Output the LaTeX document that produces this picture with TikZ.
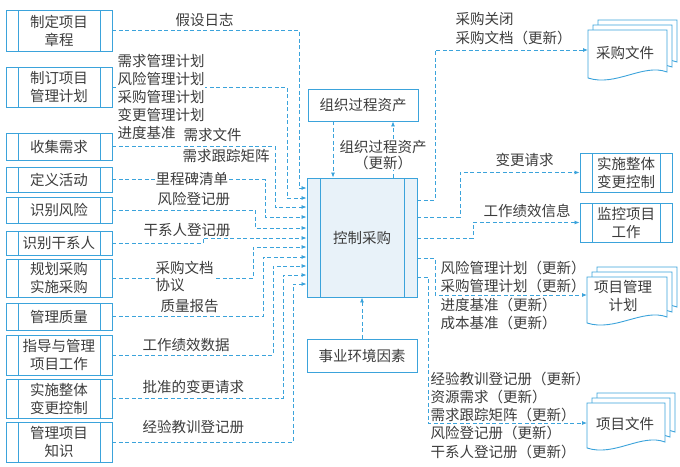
\documentclass[tikz,border=0pt]{standalone}
\usepackage{fontspec}
\setmainfont{Noto Sans CJK SC}
\usetikzlibrary{arrows.meta,calc}
\definecolor{bl}{HTML}{3BA3DB}
\definecolor{tx}{HTML}{3C3C3C}
\definecolor{fillb}{HTML}{E8F2F9}
\newcommand\docpage[4]{\draw[box,fill=white] (#1,#2) -- ++(#3,0) -- ++(0,#4-6) .. controls +(-0.3*#3,-9) and +(0.35*#3,9) .. (#1,#2+#4) -- cycle;}
\newcommand\docstack[4]{\foreach \o in {10,5,0}{\docpage{#1+\o}{#2-\o}{#3}{#4}}}
\begin{document}
\begin{tikzpicture}[x=1pt,y=-1pt,
  every node/.style={font=\fontsize{14.5}{18}\selectfont, text=tx},
  box/.style={draw=bl, line width=0.9pt},
  inl/.style={path picture={\draw[bl,line width=0.9pt]
      ([xshift=#1]path picture bounding box.north west) -- ([xshift=#1]path picture bounding box.south west)
      ([xshift=-#1]path picture bounding box.north east) -- ([xshift=-#1]path picture bounding box.south east);}},
  lproc/.style={box, align=center, minimum width=106pt, inner sep=0pt, inl=12pt, minimum height=#1},
  rproc/.style={box, align=center, minimum width=92pt, inner sep=0pt, inl=12pt, minimum height=39pt},
  plain/.style={box, minimum width=110pt, minimum height=32pt, inner sep=0pt},
  flow/.style={draw=bl, line width=0.8pt, dash pattern=on 4pt off 2.5pt, -{Latex[length=5pt,width=4pt]}},
  lab/.style={anchor=west, inner sep=0.5pt},
  labw/.style={anchor=west, inner sep=0.5pt, fill=white},
]
\useasboundingbox (0,0) rectangle (680,466);

% left process boxes
\node[lproc=41pt] (L1) at (59,30.5) {制定项目\\章程};
\node[lproc=40pt] (L2) at (59,87) {制订项目\\管理计划};
\node[lproc=27pt] (L3) at (59,146.5) {收集需求};
\node[lproc=25pt] (L4) at (59,179.5) {定义活动};
\node[lproc=26pt] (L5) at (59,210) {识别风险};
\node[lproc=24pt] (L6) at (59,243.5) {识别干系人};
\node[lproc=38pt] (L7) at (59,278) {规划采购\\实施采购};
\node[lproc=27pt] (L8) at (59,316.5) {管理质量};
\node[lproc=40pt] (L9) at (59,355) {指导与管理\\项目工作};
\node[lproc=39pt] (L10) at (59,398.5) {实施整体\\变更控制};
\node[lproc=40pt] (L11) at (59,442) {管理项目\\知识};

% central boxes
\node[box, fill=fillb, minimum width=110pt, minimum height=119pt, inner sep=0pt, inl=13pt] (ctl) at (362,237.5) {控制采购};
\node[plain] (ogp) at (363,105) {组织过程资产};
\node[plain, minimum height=33pt] (eef) at (362,355.5) {事业环境因素};

% right boxes
\node[rproc] (ssbg) at (626,172.5) {实施整体\\变更控制};
\node[rproc] (jk) at (626,222.5) {监控项目\\工作};

% documents
\docstack{588}{30}{79}{48}
\node (doc1) at (625,53) {采购文件};
\docstack{587}{277}{80}{46}
\node[align=center] (doc2) at (623,296) {项目管理\\计划};
\docstack{587}{403}{78}{45}
\node (doc3) at (625,424) {项目文件};
\coordinate (doc1L) at (588,50);
\coordinate (doc2L) at (587,295);
\coordinate (doc3L) at (587,423);

% entry points
\foreach \i/\y in {1/188,2/198,3/207,4/217,5/228,6/238,7/247,8/257,9/266,10/275,11/284}
  \coordinate (e\i) at (ctl.west |- 0,\y);
\foreach \i/\y in {1/200,2/217,3/238,4/258,5/277}
  \coordinate (o\i) at (ctl.east |- 0,\y);

% inputs
\draw[flow] (L1.east) -| (299,188) -- (e1);
\draw[flow] (L2.east) -| (287,198) -- (e2);
\draw[flow] (L3.east) -| (275,207) -- (e3);
\draw[flow] (L4.east) -| (265,217) -- (e4);
\draw[flow] (L5.east) -| (255,228) -- (e5);
\draw[flow] (L6.east) -- (203,243.5) -- (203,238) -- (e6);
\draw[flow] (L7.east) -| (253,247) -- (e7);
\draw[flow] (L8.east) -| (263,257) -- (e8);
\draw[flow] (L9.east) -| (273,266) -- (e9);
\draw[flow] (L10.east) -| (283,275) -- (e10);
\draw[flow] (L11.east) -| (293,284) -- (e11);

\draw[flow] (ogp.south -| 333,0) -- (ctl.north -| 333,0);
\draw[flow] (ctl.north -| 393,0) -- (ogp.south -| 393,0);
\draw[flow] (eef.north) -- (ctl.south);

% outputs
\draw[flow] (o1) -| (435,50) -- (doc1L);
\draw[flow] (o2) -- (460,217) |- (ssbg.west);
\draw[flow] (o3) -- (473,238) |- (jk.west);
\draw[flow] (o4) -- (435,258) |- (doc2L);
\draw[flow] (o5) -- (428,277) |- (doc3L);

% left labels
\node[labw] (t1) at (175,20) {假设日志};
\node[anchor=north west, align=left, inner sep=0.5pt, fill=white] (t2) at (117,53.5) {需求管理计划\\风险管理计划\\采购管理计划\\变更管理计划\\进度基准};
\node[labw] (t3) at (183,135) {需求文件};
\node[labw] (t4) at (182,156) {需求跟踪矩阵};
\node[labw] (t5) at (155,179) {里程碑清单};
\node[labw] (t6) at (157,199) {风险登记册};
\node[labw] (t7) at (143,230) {干系人登记册};
\node[anchor=north west, align=left, inner sep=0.5pt, fill=white, font=\fontsize{14.5}{17}\selectfont] (t8) at (155,260.5) {采购文档\\协议};
\node[labw] (t9) at (160,306) {质量报告};
\node[labw] (t10) at (142,345) {工作绩效数据};
\node[labw] (t11) at (142,387) {批准的变更请求};
\node[labw] (t12) at (142,427) {经验教训登记册};

% center labels
\node[align=center, inner sep=0.5pt, fill=white, font=\fontsize{14.5}{16}\selectfont] (t13) at (383,155) {组织过程资产\\（更新）};

% right labels
\node[lab] (r1) at (455,19) {采购关闭};
\node[lab] (r2) at (455,38) {采购文档（更新）};
\node[lab] (r3) at (495,160) {变更请求};
\node[lab] (r4) at (483,211) {工作绩效信息};
\node[lab] (r5) at (440,268) {风险管理计划（更新）};
\node[lab] (r6) at (440,286) {采购管理计划（更新）};
\node[lab] (r7) at (440,305) {进度基准（更新）};
\node[lab] (r8) at (440,323) {成本基准（更新）};
\node[lab] (r9) at (430,379) {经验教训登记册（更新）};
\node[lab] (r10) at (430,397) {资源需求（更新）};
\node[lab] (r11) at (430,415) {需求跟踪矩阵（更新）};
\node[lab] (r12) at (430,433) {风险登记册（更新）};
\node[lab] (r13) at (430,452) {干系人登记册（更新）};
\end{tikzpicture}
\end{document}
